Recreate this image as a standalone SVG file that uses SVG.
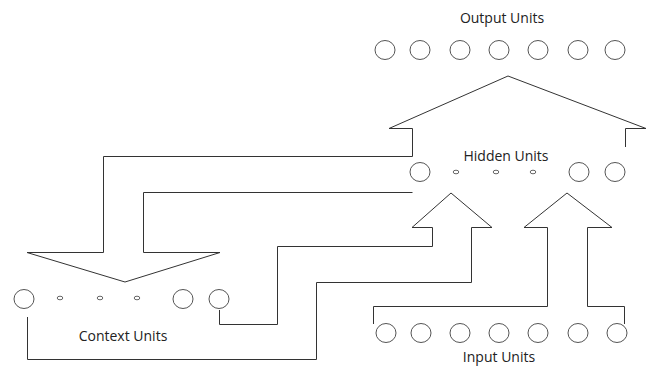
<svg xmlns="http://www.w3.org/2000/svg" width="652" height="367" viewBox="0 0 652 367">
<style>
.u{fill:none;stroke:#555;stroke-width:1}
.d{fill:none;stroke:#555;stroke-width:0.9}
.c{fill:none;stroke:#333;stroke-width:1;stroke-linejoin:miter}
.t{font-family:"Open Sans","Liberation Sans",sans-serif;font-size:14px;fill:#222;text-anchor:middle}
</style>
<rect width="652" height="367" fill="#fff"/>
<g id="output-units">
<text class="t" x="502" y="23">Output Units</text>
<ellipse class="u" cx="385" cy="50" rx="10" ry="9.5"/>
<ellipse class="u" cx="420" cy="50" rx="10" ry="9.5"/>
<ellipse class="u" cx="460" cy="50" rx="10" ry="9.5"/>
<ellipse class="u" cx="499" cy="50" rx="10" ry="9.5"/>
<ellipse class="u" cx="538" cy="50" rx="10" ry="9.5"/>
<ellipse class="u" cx="578" cy="50" rx="10" ry="9.5"/>
<ellipse class="u" cx="615" cy="50" rx="10" ry="9.5"/>
</g>
<g id="hidden-units">
<text class="t" x="506" y="161">Hidden Units</text>
<ellipse class="u" cx="420" cy="172" rx="10" ry="9.5"/>
<ellipse class="d" cx="456" cy="172" rx="2.8" ry="1.8"/>
<ellipse class="d" cx="496" cy="172" rx="2.8" ry="1.8"/>
<ellipse class="d" cx="533" cy="172" rx="2.8" ry="1.8"/>
<ellipse class="u" cx="579" cy="172" rx="10" ry="9.5"/>
<ellipse class="u" cx="615" cy="172" rx="10" ry="9.5"/>
</g>
<g id="context-units">
<text class="t" x="123" y="341">Context Units</text>
<ellipse class="u" cx="24" cy="299" rx="10" ry="9.5"/>
<ellipse class="d" cx="60" cy="298" rx="2.8" ry="1.8"/>
<ellipse class="d" cx="100" cy="298" rx="2.8" ry="1.8"/>
<ellipse class="d" cx="137" cy="298" rx="2.8" ry="1.8"/>
<ellipse class="u" cx="183" cy="299" rx="10" ry="9.5"/>
<ellipse class="u" cx="219" cy="299" rx="10" ry="9.5"/>
</g>
<g id="input-units">
<text class="t" x="499" y="362">Input Units</text>
<ellipse class="u" cx="386" cy="333" rx="10" ry="9.5"/>
<ellipse class="u" cx="421" cy="333" rx="10" ry="9.5"/>
<ellipse class="u" cx="460" cy="333" rx="10" ry="9.5"/>
<ellipse class="u" cx="499" cy="333" rx="10" ry="9.5"/>
<ellipse class="u" cx="538" cy="333" rx="10" ry="9.5"/>
<ellipse class="u" cx="578" cy="333" rx="10" ry="9.5"/>
<ellipse class="u" cx="617" cy="333" rx="10" ry="9.5"/>
</g>
<g id="connectors">
<path class="c" d="M625.5,147 V128.5 H646 L508,76 L389,128.5 H412.5 V156.5 H103.5 V252.5 H27 L125,282 L220,252.5 H143.5 V192.5 H412.5"/>
<path class="c" d="M219.5,310 V324.5 H277.5 V246.5 H432.5 V227.5 H412 L451,193 L492,227.5 H471.5 V282.5 H316.5 V359.5 H27.5 V317"/>
<path class="c" d="M373.5,324 V306.5 H547.5 V227.5 H524 L567,193 L612,227.5 H587.5 V306.5 H624.5 V324"/>
</g>
</svg>
